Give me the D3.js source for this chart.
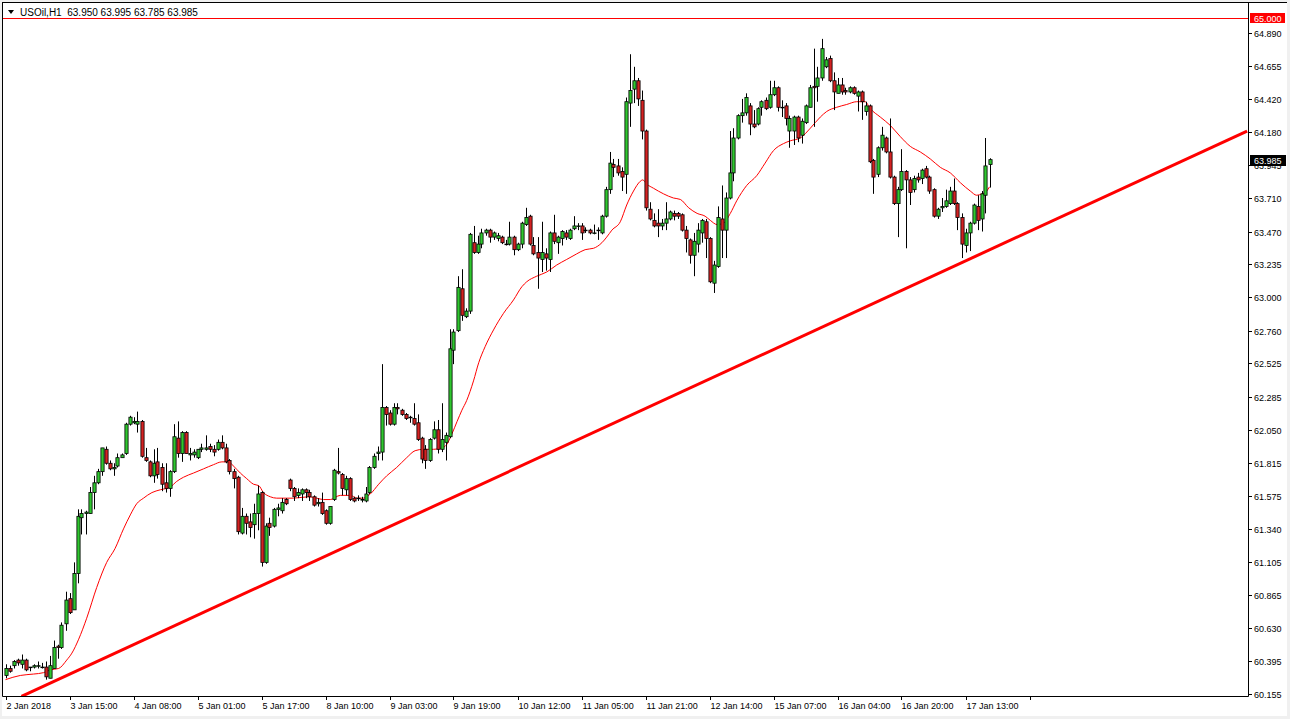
<!DOCTYPE html>
<html>
<head>
<meta charset="utf-8">
<script src="https://cdn.jsdelivr.net/npm/d3@7"></script>
<style>
html, body { margin: 0; padding: 0; background: #f0f0f0; }
svg { display: block; }
text { font-family: Tahoma, "Liberation Sans", Arial, sans-serif; font-size: 9px; fill: #000; }
</style>
</head>
<body>
<div id="chart"></div>
<script>
// USOil H1 candles, bar 0 = 2 Jan 2018
var openP = [
60.29,60.34,60.36,60.40,60.37,60.40,60.35,60.35,60.36,60.35,60.35,60.27,60.34,60.50,60.49,60.66,60.84,60.76,61.02,61.42,
61.45,61.45,61.60,61.67,61.75,61.91,61.81,61.77,61.79,61.85,61.88,62.09,62.10,62.09,62.11,61.85,61.82,61.72,61.82,61.78,
61.67,61.63,61.75,61.99,61.88,62.03,61.87,61.87,61.85,61.91,61.91,61.93,61.91,61.91,61.96,61.92,61.83,61.75,61.71,61.31,
61.43,61.39,61.37,61.45,61.60,61.10,61.38,61.36,61.48,61.47,61.55,61.69,61.63,61.58,61.59,61.62,61.60,61.57,61.52,61.53,
61.47,61.38,61.55,61.75,61.73,61.62,61.70,61.56,61.56,61.55,61.54,61.60,61.78,61.88,61.89,62.21,62.17,62.09,62.21,62.19,
62.16,62.14,62.13,62.10,61.99,61.91,61.83,61.99,62.05,61.91,61.96,62.00,62.62,62.76,63.06,62.86,62.90,63.39,63.32,63.38,
63.46,63.48,63.43,63.42,63.43,63.38,63.38,63.43,63.34,63.38,63.52,63.58,63.37,63.32,63.27,63.31,63.27,63.46,63.39,63.42,
63.46,63.42,63.49,63.51,63.51,63.48,63.48,63.46,63.48,63.46,63.58,63.77,63.95,63.94,63.90,63.88,64.39,64.49,64.55,64.41,
64.19,63.63,63.55,63.53,63.51,63.53,63.56,63.60,63.60,63.59,63.48,63.41,63.30,63.38,63.46,63.54,63.42,63.10,63.22,63.56,
63.48,63.71,63.89,64.14,64.30,64.32,64.37,64.24,64.24,64.36,64.41,64.36,64.45,64.50,64.36,64.37,64.19,64.19,64.29,64.16,
64.25,64.36,64.51,64.51,64.57,64.65,64.71,64.55,64.46,64.52,64.48,64.47,64.50,64.44,64.47,64.33,64.37,63.98,63.88,64.07,
64.14,64.04,63.86,63.67,63.77,63.90,63.84,63.77,63.86,63.85,63.92,63.86,63.77,63.58,63.64,63.65,63.67,63.76,63.67,63.57,
63.37,63.46,63.53,63.65,63.56,63.73,63.950];
var highP = [
60.37,60.36,60.40,60.41,60.44,60.41,60.35,60.37,60.39,60.38,60.39,60.43,60.54,60.51,60.67,60.89,60.88,61.10,61.48,61.48,
61.47,61.64,61.72,61.77,61.92,61.93,61.83,61.81,61.88,61.88,62.10,62.15,62.14,62.18,62.12,61.92,61.83,61.91,61.92,61.81,
61.81,61.76,62.09,62.11,62.04,62.04,61.92,61.91,61.91,61.95,62.01,61.95,61.94,61.98,62.01,61.95,61.84,61.77,61.72,61.49,
61.45,61.45,61.52,61.65,61.61,61.38,61.42,61.49,61.52,61.56,61.56,61.70,61.64,61.63,61.63,61.63,61.62,61.58,61.56,61.60,
61.48,61.50,61.77,61.92,61.74,61.72,61.71,61.57,61.58,61.57,61.64,61.79,61.88,61.93,62.52,62.22,62.19,62.24,62.24,62.20,
62.17,62.15,62.24,62.16,62.00,61.94,61.99,62.11,62.12,62.24,62.03,62.77,62.77,63.15,63.20,62.92,63.46,63.51,63.44,63.49,
63.49,63.49,63.47,63.46,63.44,63.41,63.54,63.44,63.39,63.54,63.64,63.59,63.43,63.43,63.54,63.35,63.47,63.59,63.44,63.48,
63.48,63.49,63.58,63.53,63.53,63.50,63.49,63.52,63.50,63.59,63.79,64.04,63.99,63.99,63.93,64.43,64.74,64.65,64.57,64.48,
64.20,63.68,63.60,63.63,63.56,63.68,63.62,63.62,63.61,63.60,63.51,63.42,63.46,63.53,63.56,63.56,63.43,63.26,63.65,63.80,
63.75,64.19,64.21,64.31,64.42,64.46,64.39,64.34,64.36,64.41,64.43,64.55,64.55,64.51,64.41,64.39,64.30,64.30,64.30,64.28,
64.38,64.52,64.78,64.65,64.85,64.72,64.73,64.61,64.57,64.57,64.50,64.51,64.51,64.48,64.48,64.40,64.38,63.99,64.08,64.22,
64.15,64.28,63.87,63.79,64.06,63.91,63.86,63.87,63.89,63.92,63.94,63.87,63.78,63.64,63.71,63.77,63.79,63.85,63.68,63.60,
63.49,63.54,63.67,63.73,63.76,64.14,63.995];
var lowP = [
60.27,60.31,60.34,60.36,60.34,60.32,60.32,60.34,60.34,60.34,60.26,60.27,60.34,60.41,60.48,60.61,60.73,60.76,60.95,61.30,
61.30,61.45,61.48,61.66,61.72,61.80,61.76,61.72,61.78,61.85,61.87,62.08,62.09,62.03,61.85,61.82,61.71,61.67,61.70,61.61,
61.60,61.57,61.74,61.85,61.82,61.88,61.83,61.85,61.84,61.89,61.90,61.89,61.86,61.90,61.91,61.81,61.73,61.63,61.30,61.30,
61.30,61.28,61.27,61.33,61.07,61.09,61.29,61.35,61.43,61.45,61.51,61.61,61.54,61.56,61.54,61.56,61.54,61.50,61.50,61.44,
61.37,61.37,61.54,61.73,61.58,61.58,61.54,61.53,61.54,61.53,61.53,61.59,61.77,61.83,61.83,62.08,62.08,62.08,62.16,62.15,
62.12,62.10,62.08,61.97,61.81,61.77,61.82,61.98,61.88,61.89,61.83,61.99,62.52,62.75,62.83,62.85,62.88,63.31,63.31,63.35,
63.44,63.39,63.41,63.40,63.38,63.37,63.37,63.30,63.33,63.35,63.51,63.37,63.30,63.06,63.18,63.19,63.18,63.38,63.31,63.37,
63.41,63.41,63.48,63.48,63.41,63.46,63.45,63.45,63.41,63.45,63.57,63.74,63.86,63.87,63.76,63.74,64.22,64.39,64.37,64.13,
63.62,63.55,63.50,63.43,63.48,63.48,63.55,63.55,63.56,63.47,63.32,63.24,63.15,63.32,63.39,63.28,63.10,63.03,63.21,63.28,
63.28,63.70,63.83,64.13,64.25,64.30,64.16,64.21,64.23,64.30,64.34,64.35,64.44,64.33,64.29,64.23,64.07,64.09,64.11,64.10,
64.24,64.36,64.22,64.40,64.55,64.64,64.54,64.34,64.46,64.45,64.45,64.46,64.45,64.33,64.27,64.30,63.96,63.74,63.86,64.05,
64.03,63.85,63.66,63.43,63.76,63.35,63.66,63.75,63.82,63.81,63.85,63.74,63.57,63.56,63.61,63.64,63.66,63.66,63.48,63.28,
63.32,63.33,63.52,63.48,63.47,63.60,63.785];
var closeP = [
60.34,60.32,60.39,60.38,60.40,60.33,60.35,60.36,60.36,60.35,60.28,60.36,60.49,60.49,60.65,60.83,60.74,61.02,61.43,61.45,
61.46,61.60,61.67,61.75,61.92,61.81,61.77,61.78,61.85,61.87,62.09,62.14,62.11,62.11,61.86,61.83,61.72,61.81,61.73,61.66,
61.63,61.75,62.00,61.88,62.03,61.88,61.88,61.89,61.91,61.92,61.92,61.91,61.89,61.96,61.92,61.82,61.75,61.70,61.32,61.43,
61.38,61.35,61.45,61.59,61.10,61.36,61.35,61.48,61.49,61.53,61.52,61.63,61.57,61.60,61.62,61.60,61.57,61.51,61.53,61.45,
61.38,61.50,61.76,61.74,61.63,61.70,61.55,61.54,61.56,61.55,61.59,61.78,61.86,61.89,62.21,62.16,62.09,62.21,62.20,62.16,
62.13,62.14,62.09,61.98,61.84,61.83,61.98,62.05,61.91,61.98,62.01,62.63,62.75,63.07,62.87,62.90,63.45,63.32,63.38,63.46,
63.48,63.43,63.46,63.44,63.39,63.38,63.43,63.34,63.38,63.53,63.57,63.38,63.31,63.28,63.32,63.28,63.46,63.40,63.43,63.47,
63.43,63.48,63.51,63.51,63.46,63.48,63.46,63.46,63.48,63.58,63.77,63.96,63.93,63.89,63.86,64.40,64.48,64.55,64.42,64.19,
63.64,63.56,63.51,63.51,63.53,63.56,63.61,63.58,63.58,63.48,63.42,63.30,63.40,63.48,63.55,63.42,63.11,63.23,63.57,63.48,
63.71,63.89,64.14,64.30,64.32,64.43,64.24,64.22,64.35,64.40,64.35,64.45,64.50,64.36,64.36,64.28,64.28,64.29,64.14,64.26,
64.37,64.50,64.50,64.57,64.78,64.70,64.55,64.47,64.52,64.47,64.47,64.50,64.46,64.47,64.40,64.37,63.97,63.86,64.07,64.16,
64.04,63.86,63.67,63.77,63.90,63.84,63.75,63.85,63.84,63.91,63.86,63.76,63.58,63.63,63.65,63.69,63.76,63.67,63.57,63.38,
63.46,63.53,63.66,63.55,63.74,63.94,63.985];

// moving average (red thin line), read at bar positions
var maBar = [0,3.7,7,9.5,11.2,13.3,15.3,16.6,18.3,20.3,22.8,25.3,27.4,29.5,31.2,32.8,34.5,36.6,38.7,41.2,
42.8,44.5,47,49.5,52,54.1,55.8,57,58.7,60.3,62,63.3,64.5,66.2,67.8,70.3,72,75.8,77.8,79.5,
81.2,83.7,86.2,87.9,89.5,91.2,93.3,95.3,97.8,100.3,102.4,104.5,107,109.1,110.2,111.6,112.9,114.1,115.3,117,
118.3,119.9,122,124.5,127,129.1,130.3,132.8,135.3,137.8,140.3,142.8,144.9,147,149.1,150.3,151.6,153.7,155.3,157,
158.7,159.3,160.3,162,164.5,167,168.7,170.8,172.9,174.9,176.2,177.9,179.5,181.2,182.8,185.3,187.8,189.9,192,194.5,
196.2,198.7,201.2,203.7,205.3,207.8,210.3,212.8,214.9,216.2,218.7,221.2,223.7,226.2,228.7,231.2,233.7,236.2,238.7,241.2,
242.8,244.1,245.3,246];
var maValue = [60.26,60.29,60.30,60.31,60.33,60.34,60.40,60.45,60.55,60.70,60.92,61.10,61.20,61.34,61.44,61.52,61.56,61.60,61.62,61.64,
61.68,61.71,61.74,61.77,61.80,61.82,61.82,61.79,61.74,61.70,61.66,61.65,61.60,61.57,61.56,61.56,61.56,61.57,61.56,61.55,
61.55,61.58,61.58,61.56,61.56,61.59,61.66,61.72,61.78,61.85,61.90,61.91,61.91,61.92,61.94,62.02,62.11,62.19,62.26,62.40,
62.53,62.645,62.765,62.884,62.98,63.075,63.11,63.15,63.18,63.23,63.27,63.31,63.34,63.35,63.39,63.43,63.48,63.54,63.66,63.76,
63.83,63.84,63.81,63.78,63.74,63.71,63.70,63.64,63.60,63.58,63.55,63.52,63.53,63.60,63.69,63.80,63.87,63.96,64.05,64.10,
64.12,64.14,64.21,64.29,64.33,64.36,64.38,64.40,64.40,64.35,64.29,64.23,64.15,64.08,64.04,63.99,63.93,63.89,63.82,63.76,
63.73,63.74,63.76,63.79];

// trend line drawn on the chart
var trendBars = [4, 310.4];
var trendPrices = [60.14, 64.19];

var priceTicks = ["64.890","64.655","64.420","64.180","63.945","63.710","63.470","63.235","63.000","62.760",
"62.525","62.285","62.050","61.815","61.575","61.340","61.105","60.865","60.630","60.395","60.155"];
var timeLabels = ["2 Jan 2018","3 Jan 15:00","4 Jan 08:00","5 Jan 01:00","5 Jan 17:00","8 Jan 10:00","9 Jan 03:00",
"9 Jan 19:00","10 Jan 12:00","11 Jan 05:00","11 Jan 21:00","12 Jan 14:00","15 Jan 07:00","16 Jan 04:00",
"16 Jan 20:00","17 Jan 13:00"];

var symbol = "USOil,H1";
var levelLine = 65.000;
var lastPrice = 63.985;

var width = 1290, height = 719;
var plotL = 2.5, plotT = 2.5, plotR = 1248.5, plotB = 696.5;

var bullColor = "#2fc72f", bearColor = "#d42222";

var svg = d3.select("#chart").append("svg")
	.attr("width", width)
	.attr("height", height);

// window frame
svg.append("rect").attr("x", 2).attr("y", 2).attr("width", 1285).attr("height", 714).attr("fill", "#fff");

var x = d3.scaleLinear().domain([0, 310]).range([5.5, 5.5 + 4 * 310]);
var y = d3.scaleLinear().domain([60.155, 64.890]).range([694.3, 33.3]);

svg.append("clipPath").attr("id", "plotclip")
	.append("rect").attr("x", plotL).attr("y", plotT).attr("width", plotR - plotL).attr("height", plotB - plotT);

var plot = svg.append("g").attr("clip-path", "url(#plotclip)");

// horizontal level at 65.000
var ly = Math.round(y(levelLine)) + 0.5;
plot.append("line")
	.attr("x1", plotL).attr("x2", plotR).attr("y1", ly).attr("y2", ly)
	.attr("stroke", "#ff0000").attr("stroke-width", 1);

// trend line
plot.append("line")
	.attr("x1", x(trendBars[0])).attr("y1", y(trendPrices[0]))
	.attr("x2", x(trendBars[1])).attr("y2", y(trendPrices[1]))
	.attr("stroke", "#ff0000").attr("stroke-width", 3);

// moving average
var maPts = maBar.map(function(b, i) { return [b, maValue[i]]; });
plot.append("path")
	.datum(maPts)
	.attr("fill", "none")
	.attr("stroke", "#ff0000")
	.attr("stroke-width", 1)
	.attr("d", d3.line()
		.x(function(d) { return x(d[0]); })
		.y(function(d) { return y(d[1]); })
		.curve(d3.curveMonotoneX));

// candles
var bars = openP.map(function(o, i) {
	return { i: i, o: o, h: highP[i], l: lowP[i], c: closeP[i] };
});

var candles = plot.append("g").selectAll("g")
	.data(bars)
	.enter().append("g");

candles.append("line")
	.attr("x1", function(d) { return Math.round(x(d.i)) + 0.5; })
	.attr("x2", function(d) { return Math.round(x(d.i)) + 0.5; })
	.attr("y1", function(d) { return y(d.h); })
	.attr("y2", function(d) { return y(d.l); })
	.attr("stroke", "#000")
	.attr("stroke-width", 1);

candles.append("rect")
	.attr("x", function(d) { return Math.round(x(d.i)) + 0.5 - 1.6; })
	.attr("width", 3.2)
	.attr("y", function(d) { return y(Math.max(d.o, d.c)); })
	.attr("height", function(d) { return Math.max(0.6, Math.abs(y(d.o) - y(d.c))); })
	.attr("fill", function(d) { return d.c >= d.o ? bullColor : bearColor; })
	.attr("stroke", "#000")
	.attr("stroke-width", 0.8);

// frame lines
svg.append("line").attr("x1", 2).attr("x2", 1287).attr("y1", plotT).attr("y2", plotT).attr("stroke", "#000");
svg.append("line").attr("x1", plotL).attr("x2", plotL).attr("y1", plotT).attr("y2", plotB).attr("stroke", "#000");
svg.append("line").attr("x1", plotR).attr("x2", plotR).attr("y1", plotT).attr("y2", plotB).attr("stroke", "#000");
svg.append("line").attr("x1", plotL).attr("x2", plotR).attr("y1", plotB).attr("y2", plotB).attr("stroke", "#000");

// price axis
var pAxis = svg.append("g");
priceTicks.forEach(function(t) {
	var ty = Math.round(y(+t)) + 0.5;
	pAxis.append("line").attr("x1", plotR).attr("x2", plotR + 3.5).attr("y1", ty).attr("y2", ty).attr("stroke", "#000");
	pAxis.append("text").attr("x", 1254).attr("y", ty + 3.5).text(t);
});

// 65.000 label
var levelG = svg.append("g");
levelG.append("rect").attr("x", 1250).attr("y", ly - 5.5).attr("width", 35).attr("height", 10).attr("fill", "#ff0000");
levelG.append("text").attr("x", 1254).attr("y", ly + 3.5).style("fill", "#fff").text(levelLine.toFixed(3));

// current price label
var cy = Math.round(y(lastPrice)) + 0.5;
var curG = svg.append("g");
curG.append("rect").attr("x", 1250).attr("y", cy - 5.5).attr("width", 36).attr("height", 11).attr("fill", "#000");
curG.append("text").attr("x", 1254).attr("y", cy + 3.5).style("fill", "#fff").text(lastPrice.toFixed(3));

// time axis
var tAxis = svg.append("g");
d3.range(0, 257, 16).forEach(function(b, k) {
	var tx = Math.round(x(b)) + 0.5;
	tAxis.append("line").attr("x1", tx).attr("x2", tx).attr("y1", plotB).attr("y2", plotB + 3.5).attr("stroke", "#000");
	if (k < timeLabels.length) {
		tAxis.append("text").attr("x", tx).attr("y", 709).text(timeLabels[k]);
	}
});

// header
svg.append("path").attr("d", "M8,10 L14,10 L11,14 Z").attr("fill", "#000");
svg.append("text")
	.attr("x", 20).attr("y", 16)
	.style("white-space", "pre")
	.style("font-size", "10px")
	.text(symbol + "  " + [openP[246], highP[246], lowP[246], closeP[246]].map(function(v) { return v.toFixed(3); }).join(" "));
</script>
</body>
</html>
